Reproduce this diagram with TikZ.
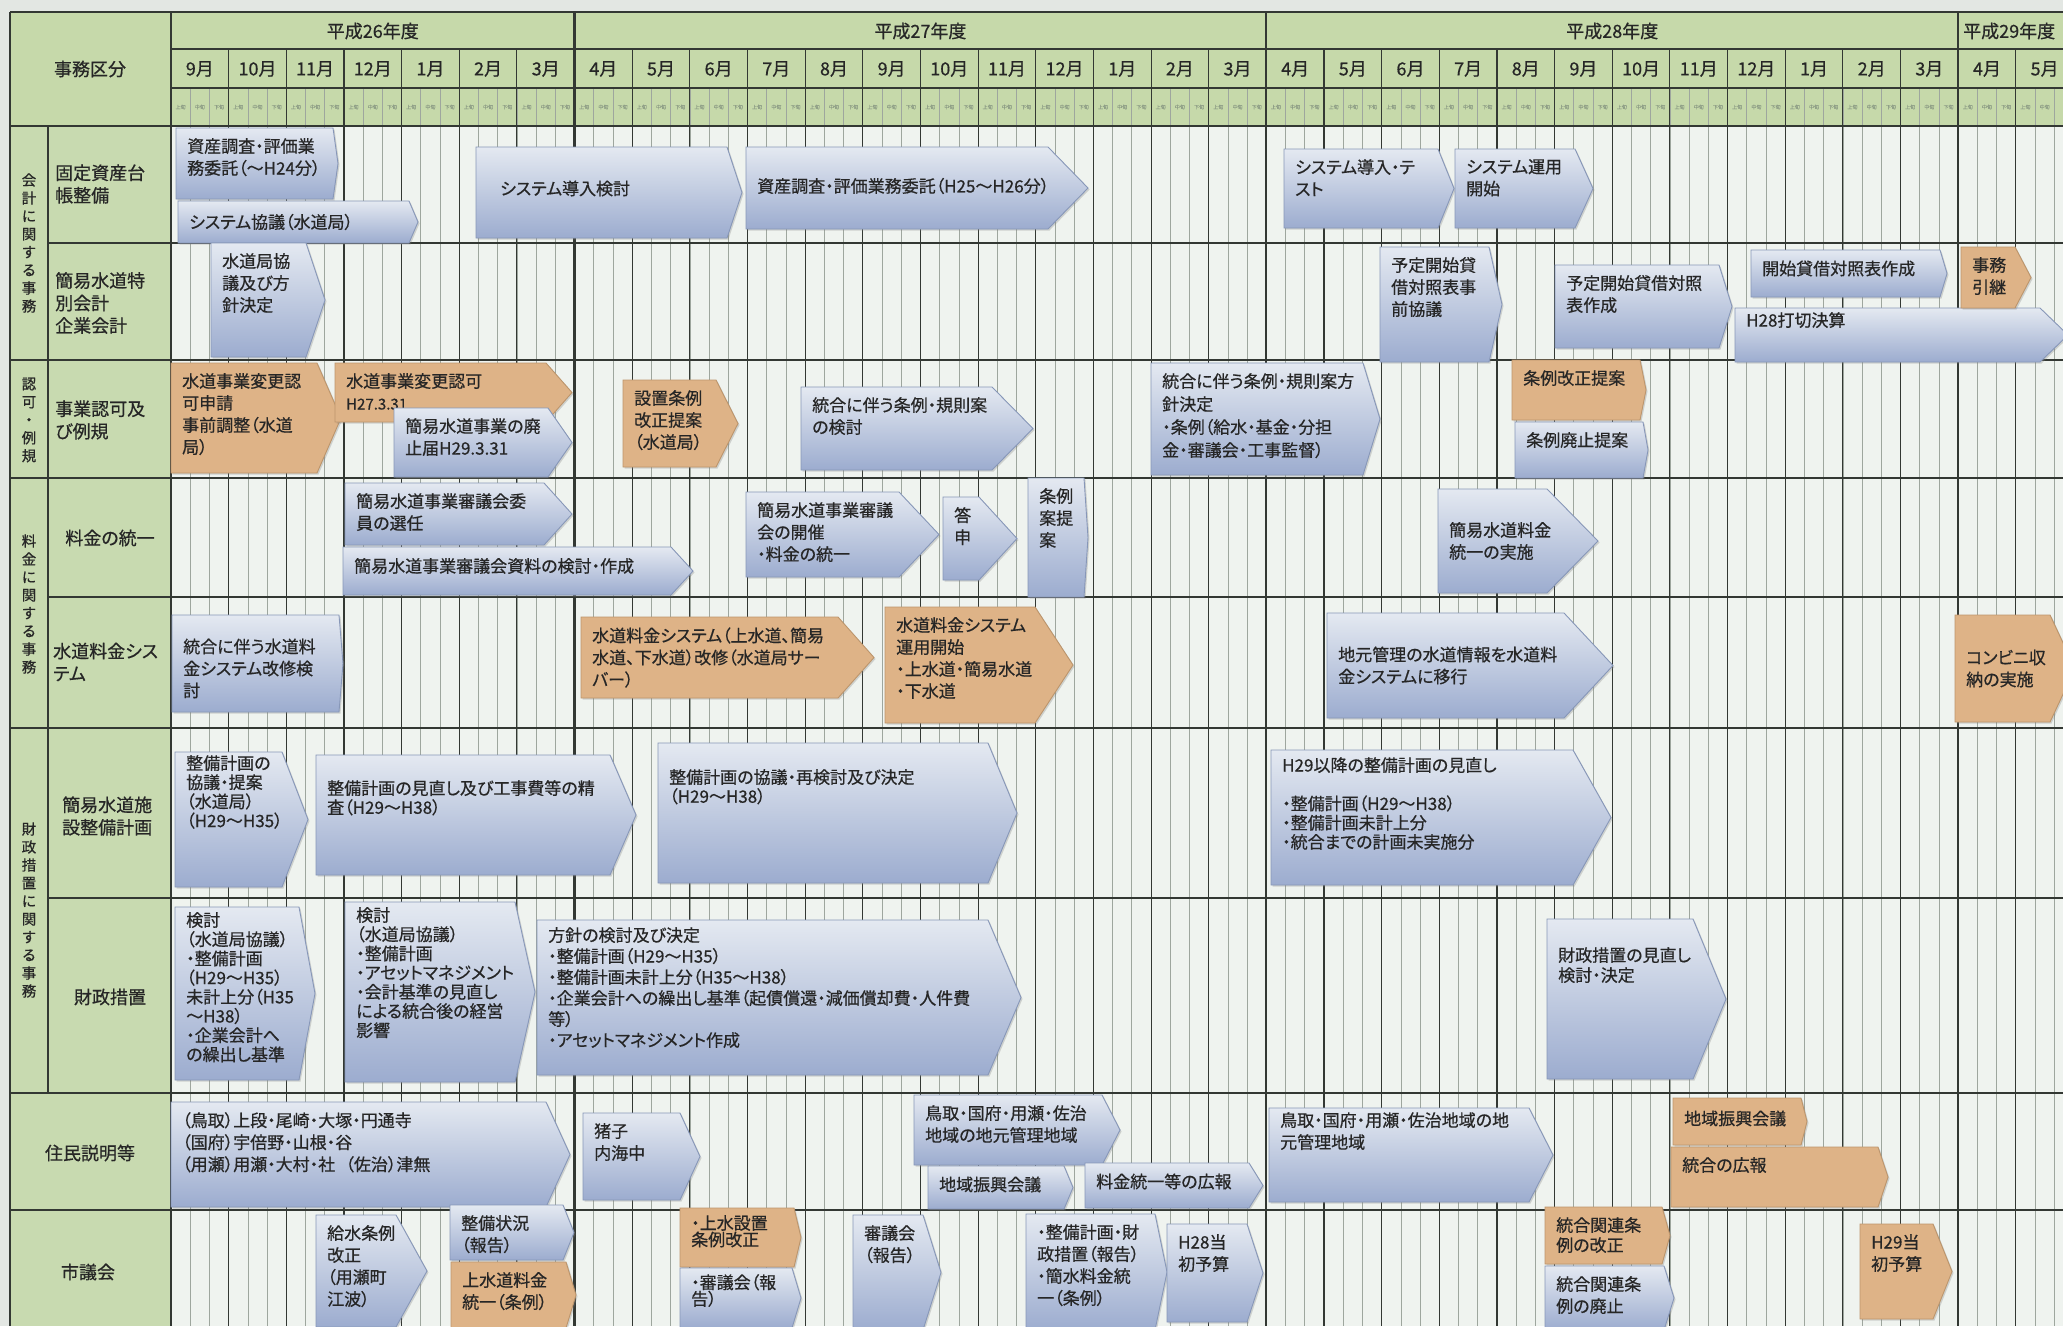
\documentclass[tikz,border=0pt]{standalone}
\usepackage{fontspec}
\setmainfont{Noto Sans CJK JP}[RawFeature=+palt, FakeBold=0.6]
\usetikzlibrary{shadows}
\definecolor{hdrgreen}{HTML}{C6D9AA}
\definecolor{lblgreen}{HTML}{C8DAB0}
\definecolor{bodybg}{HTML}{EFF3EF}
\definecolor{outerbg}{HTML}{E3E7E3}
\definecolor{btop}{HTML}{E4E9F1}
\definecolor{bbot}{HTML}{9CACCF}
\definecolor{bedge}{HTML}{8797B8}
\definecolor{orfill}{HTML}{DEB387}
\definecolor{oredge}{HTML}{BC956C}
\definecolor{gridd}{HTML}{333833}
\definecolor{gridl}{HTML}{9EA69E}
\definecolor{txtc}{HTML}{262626}
\definecolor{subtxt}{HTML}{8E9E86}
\newcommand\abox[9][bb]{%
  \def\bxa{#3}\def\bxb{#4}\def\bxc{#7}%
  \path[#1] (#3,#4) -- (#5,#4) -- (#6,{(#4+#7)/2}) -- (#5,#7) -- (#3,#7) -- cycle;
  \node[bt, at={(#3+11,#4+10)}, #8] (#2) {#9};
}
\begin{document}
\begin{tikzpicture}[x=1pt,y=-1pt,
  bb/.style={top color=btop, bottom color=bbot, draw=bedge, line width=0.9pt,
    drop shadow={shadow xshift=1.5pt, shadow yshift=-1.5pt, opacity=0.3}},
  ob/.style={fill=orfill, draw=oredge, line width=0.9pt,
    drop shadow={shadow xshift=1.5pt, shadow yshift=-1.5pt, opacity=0.3}},
  bt/.style={anchor=north west, inner sep=0pt, align=left, text=txtc,
    font=\fontsize{17}{22}\selectfont},
  dense/.style={font=\fontsize{17}{19.2}\selectfont},
  ml/.style={anchor=west, at={(\bxa+11,{(\bxb+\bxc)/2})}},
  hd/.style={inner sep=0pt, text=txtc, font=\fontsize{18}{22}\selectfont},
  lb/.style={inner sep=0pt, align=left, text=txtc, font=\fontsize{18}{22.5}\selectfont},
  vt/.style={inner sep=0pt, align=center, text=txtc, font=\fontsize{14.5}{18}\selectfont},
  sub/.style={inner sep=0pt, text=subtxt, font=\fontsize{5}{6}\selectfont},
  gd/.style={draw=gridd, line width=1.1pt},
  gl/.style={draw=gridl, line width=0.7pt}]
\useasboundingbox (0,0) rectangle (2063,1326);
\clip (0,0) rectangle (2063,1326);
\def\W{57.65}
% backgrounds
\fill[outerbg] (0,0) rectangle (2063,1326);
\fill[hdrgreen] (10,12) rectangle (2063,126);
\fill[lblgreen] (10,126) rectangle (171,1326);
\fill[bodybg] (171,126) rectangle (2063,1326);
% grid: thirds of months
\foreach \i in {0,...,98} \draw[gl] ({171+\i*\W/3},88) -- ({171+\i*\W/3},1326);
% month lines
\foreach \i in {0,...,33} \draw[gd] ({171+\i*\W},49) -- ({171+\i*\W},1326);
% year lines
\foreach \x in {171,574.55,1266.35,1958.15} \draw[gridd, line width=2.2pt] (\x,12) -- (\x,1326);
% horizontal lines
\draw[gd, line width=1.3pt] (10,12) -- (2063,12);
\draw[gd] (171,49) -- (2063,49);
\draw[gd] (171,88) -- (2063,88);
\draw[gd, line width=1.3pt] (10,126) -- (2063,126);
\foreach \y in {360,478,728,1093,1210} \draw[gd, line width=1.3pt] (10,\y) -- (2063,\y);
\foreach \y in {243,597,898} \draw[gd, line width=1.3pt] (48,\y) -- (2063,\y);
\draw[gd, line width=1.3pt] (10,12) -- (10,1326);
\draw[gd] (48,126) -- (48,1093);
% header texts
\node[hd] (jimu) at (90,69) {事務区分};
\node[hd] (y26) at (372.8,31) {平成26年度};
\node[hd] (y27) at (920.45,31) {平成27年度};
\node[hd] (y28) at (1612.25,31) {平成28年度};
\node[hd, anchor=west] (y29) at (1963,31) {平成29年度};
\foreach \lab [count=\i from 0] in {9月,10月,11月,12月,1月,2月,3月,4月,5月,6月,7月,8月,9月,10月,11月,12月,1月,2月,3月,4月,5月,6月,7月,8月,9月,10月,11月,12月,1月,2月,3月,4月,5月}
  \node[hd] (mon\i) at ({171+(\i+0.5)*\W},69) {\lab};
\foreach \i in {0,...,31}
  \foreach \s [count=\j from 0] in {上旬,中旬,下旬}
    \node[sub] (s\i-\j) at ({171+\i*\W+(\j+0.5)*\W/3},107) {\s};
\node[sub] (s32-0) at ({171+32*\W+0.5*\W/3},107) {上旬};
\node[sub] (s32-1) at ({171+32*\W+1.5*\W/3},107) {中旬};
% category labels
\node[vt] (c1) at (29,243) {会\\計\\に\\関\\す\\る\\事\\務};
\node[vt] (c2) at (29,420) {認\\可\\・\\例\\規};
\node[vt] (c3) at (29,604) {料\\金\\に\\関\\す\\る\\事\\務};
\node[vt] (c4) at (29,910) {財\\政\\措\\置\\に\\関\\す\\る\\事\\務};
\node[lb, anchor=west] (l1) at (55,184) {固定資産台\\帳整備};
\node[lb, anchor=west] (l2) at (55,303) {簡易水道特\\別会計\\企業会計};
\node[lb, anchor=west] (l3) at (55,420) {事業認可及\\び例規};
\node[lb] (l4) at (110,538) {料金の統一};
\node[lb, anchor=west] (l5) at (53,662) {水道料金シス\\テム};
\node[lb, anchor=west] (l6) at (62,816) {簡易水道施\\設整備計画};
\node[lb] (l7) at (110,997) {財政措置};
\node[lb] (l8) at (90,1153) {住民説明等};
\node[lb] (l9) at (88,1272) {市議会};
% row 1
\abox{b1}{176}{128}{333}{338}{199}{}{資産調査・評価業\\務委託（～H24分）}
\abox{b2}{178}{201}{409}{418}{243}{ml}{システム協議（水道局）}
\abox{b3}{476}{147}{727}{742}{238}{ml,xshift=13,yshift=4}{システム導入検討}
\abox{b4}{746}{147}{1048}{1088}{229}{ml,yshift=2}{資産調査・評価業務委託（H25～H26分）}
\abox{b5}{1284}{149}{1438}{1454}{228}{}{システム導入・テ\\スト}
\abox{b6}{1455}{149}{1575}{1593}{228}{}{システム運用\\開始}
% row 2
\abox{b7}{211}{243}{306}{325}{357}{}{水道局協\\議及び方\\針決定}
\abox{b8}{1380}{247}{1489}{1502}{362}{}{予定開始貸\\借対照表事\\前協議}
\abox{b9}{1555}{265}{1719}{1732}{348}{}{予定開始貸借対照\\表作成}
\abox{b10}{1751}{250}{1940}{1947}{297}{ml,yshift=5}{開始貸借対照表作成}
\abox{b11}{1735}{308}{2040}{2068}{362}{yshift=6}{H28打切決算}
\abox[ob]{b12}{1961}{247}{2015}{2031}{308}{}{事務\\引継}
% row 3
\abox[ob]{b13}{171}{363}{317}{341}{473}{}{水道事業変更認\\可申請\\事前調整（水道\\局）}
\abox[ob]{b14}{335}{363}{546}{572}{422}{}{水道事業変更認可\\{\fontsize{15}{18}\selectfont H27.3.31}}
\abox{b15}{394}{408}{548}{572}{477}{}{簡易水道事業の廃\\止届H29.3.31}
\abox[ob]{b16}{623}{380}{716}{738}{467}{}{設置条例\\改正提案\\（水道局）}
\abox{b17}{801}{387}{992}{1033}{470}{}{統合に伴う条例・規則案\\の検討}
\abox{b18}{1151}{363}{1363}{1380}{475}{font=\fontsize{17}{23}\selectfont}{統合に伴う条例・規則案方\\針決定\\・条例（給水・基金・分担\\金・審議会・工事監督）}
\abox[ob]{b19}{1512}{360}{1640}{1646}{420}{}{条例改正提案}
\abox{b20}{1515}{422}{1643}{1648}{478}{}{条例廃止提案}
% row 4
\abox{b21}{345}{483}{544}{572}{545}{}{簡易水道事業審議会委\\員の選任}
\abox{b22}{343}{547}{671}{693}{595}{ml,yshift=5}{簡易水道事業審議会資料の検討・作成}
\abox{b23}{746}{492}{899}{939}{577}{}{簡易水道事業審議\\会の開催\\・料金の統一}
\abox{b24}{943}{497}{979}{1017}{580}{}{答\\申}
\abox{b25}{1028}{478}{1084}{1088}{597}{}{条例\\案提\\案}
\abox{b26}{1438}{489}{1547}{1598}{593}{ml}{簡易水道料金\\統一の実施}
% row 5
\abox{b27}{172}{615}{339}{343}{712}{ml,yshift=-5}{統合に伴う水道料\\金システム改修検\\討}
\abox[ob]{b28}{581}{617}{838}{874}{698}{ml}{水道料金システム（上水道、簡易\\水道、下水道）改修（水道局サー\\バー）}
\abox[ob]{b29}{885}{607}{1035}{1073}{723}{}{水道料金システム\\運用開始\\・上水道・簡易水道\\・下水道}
\abox{b30}{1327}{613}{1564}{1613}{718}{ml}{地元管理の水道情報を水道料\\金システムに移行}
\abox[ob]{b31}{1955}{615}{2050}{2075}{722}{ml}{コンビニ収\\納の実施}
% row 6
\abox{b32}{175}{752}{282}{308}{887}{dense,yshift=7}{整備計画の\\協議・提案\\（水道局）\\（H29～H35）}
\abox{b33}{316}{755}{610}{636}{875}{dense,yshift=-15}{整備計画の見直し及び工事費等の精\\査（H29～H38）}
\abox{b34}{658}{743}{988}{1017}{883}{dense,yshift=-16}{整備計画の協議・再検討及び決定\\（H29～H38）}
\abox{b35}{1271}{750}{1573}{1611}{885}{dense,yshift=3}{H29以降の整備計画の見直し\\ \mbox{}\\・整備計画（H29～H38）\\・整備計画未計上分\\・統合までの計画未実施分}
% row 7
\abox{b36}{175}{907}{299}{315}{1080}{dense,yshift=5}{検討\\（水道局協議）\\・整備計画\\（H29～H35）\\未計上分（H35\\～H38）\\・企業会計へ\\の繰出し基準}
\abox{b37}{345}{902}{515}{535}{1082}{dense,yshift=5}{検討\\（水道局協議）\\・整備計画\\・アセットマネジメント\\・会計基準の見直し\\による統合後の経営\\影響}
\abox{b38}{537}{920}{988}{1021}{1075}{yshift=3,font=\fontsize{17}{21}\selectfont}{方針の検討及び決定\\・整備計画（H29～H35）\\・整備計画未計上分（H35～H38）\\・企業会計への繰出し基準（起債償還・減価償却費・人件費\\等）\\・アセットマネジメント作成}
\abox{b39}{1547}{919}{1693}{1726}{1079}{yshift=-18,font=\fontsize{17}{20}\selectfont}{財政措置の見直し\\検討・決定}
% row 8
\abox{b40}{171}{1102}{546}{570}{1207}{}{（鳥取）上段・尾崎・大塚・円通寺\\（国府）宇倍野・山根・谷\\（用瀬）用瀬・大村・社\hspace{0.6em}（佐治）津無}
\abox{b41}{583}{1113}{680}{700}{1200}{}{猪子\\内海中}
\abox{b42}{914}{1095}{1102}{1120}{1165}{}{鳥取・国府・用瀬・佐治\\地域の地元管理地域}
\abox{b43}{928}{1166}{1064}{1073}{1209}{ml,yshift=3}{地域振興会議}
\abox{b44}{1085}{1163}{1249}{1263}{1208}{ml,yshift=4}{料金統一等の広報}
\abox{b45}{1269}{1108}{1529}{1553}{1202}{yshift=6}{鳥取・国府・用瀬・佐治地域の地\\元管理地域}
\abox[ob]{b46}{1673}{1098}{1801}{1807}{1145}{ml,yshift=3}{地域振興会議}
\abox[ob]{b47}{1671}{1147}{1878}{1888}{1207}{}{統合の広報}
% row 9
\abox{b48}{316}{1215}{396}{427}{1327}{}{給水条例\\改正\\（用瀬町\\江波）}
\abox{b49}{450}{1205}{563}{574}{1260}{}{整備状況\\（報告）}
\abox[ob]{b50}{451}{1262}{566}{576}{1328}{}{上水道料金\\統一（条例）}
\abox[ob]{b51}{680}{1208}{794}{801}{1267}{yshift=3,font=\fontsize{17}{16.5}\selectfont}{・上水設置\\条例改正}
\abox{b52}{680}{1268}{792}{801}{1328}{yshift=4,font=\fontsize{17}{16.5}\selectfont}{・審議会（報\\告）}
\abox{b53}{853}{1215}{923}{941}{1330}{}{審議会\\（報告）}
\abox{b54}{1026}{1214}{1155}{1167}{1330}{}{・整備計画・財\\政措置（報告）\\・簡水料金統\\一（条例）}
\abox{b55}{1167}{1224}{1247}{1263}{1322}{}{H28当\\初予算}
\abox[ob]{b56}{1545}{1207}{1662}{1670}{1264}{font=\fontsize{17}{20}\selectfont}{統合関連条\\例の改正}
\abox{b57}{1545}{1266}{1664}{1674}{1330}{}{統合関連条\\例の廃止}
\abox[ob]{b58}{1860}{1224}{1933}{1952}{1319}{}{H29当\\初予算}
\end{tikzpicture}
\end{document}
